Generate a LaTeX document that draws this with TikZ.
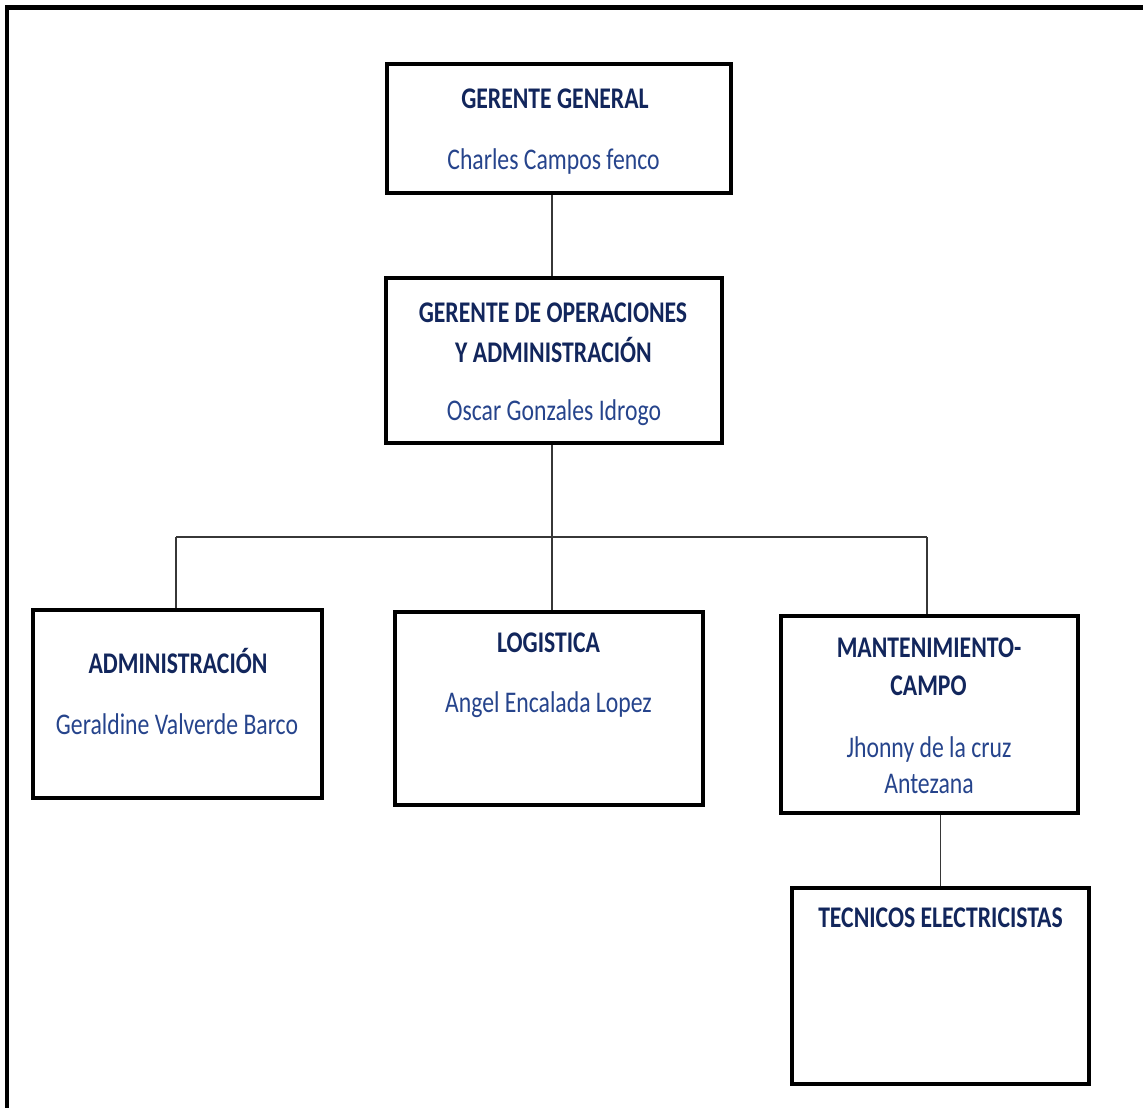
\documentclass[tikz,border=0pt]{standalone}
\usepackage{fontspec}
\setmainfont{Carlito}[FakeStretch=0.79]
\definecolor{headblue}{RGB}{18,38,92}
\definecolor{nameblue}{RGB}{38,68,140}
\definecolor{linegray}{RGB}{55,55,55}
\begin{document}
\begin{tikzpicture}[x=1pt,y=-1pt,
  box/.style={draw=black, line width=2.6pt, fill=white, rectangle, inner sep=0pt},
  head/.style={anchor=base, inner sep=0pt, text=headblue, font=\fontsize{30}{36}\selectfont\bfseries},
  person/.style={anchor=base, inner sep=0pt, text=nameblue, font=\fontsize{30}{36}\selectfont},
  conn/.style={draw=linegray, line width=1.3pt}]
\useasboundingbox (0,0) rectangle (1143,1108);
\clip (0,0) rectangle (1143,1108);
\fill[white] (0,0) rectangle (1143,1108);
\draw[line width=4.5pt] (7,7.5) rectangle (1170,1140);

% connector coordinates
\coordinate (busC) at (552,537);
\coordinate (busL) at (176,537);
\coordinate (busR) at (927,537);

% boxes
\node[box, minimum width=342pt, minimum height=127pt] (gg) at (559,128.5) {};
\node[box, minimum width=334pt, minimum height=163pt] (ops) at (554,360.5) {};
\node[box, minimum width=287pt, minimum height=186pt] (adm) at (177.5,704) {};
\node[box, minimum width=306pt, minimum height=191pt] (log) at (549,708.5) {};
\node[box, minimum width=295pt, minimum height=195pt] (man) at (929.5,714.5) {};
\node[box, minimum width=295pt, minimum height=194pt] (tec) at (940.5,986) {};

% connectors
\begin{scope}[on background layer/.try]
\end{scope}
\draw[conn] (gg.south -| busC) -- (ops.north -| busC);
\draw[conn] (ops.south -| busC) -- (log.north -| busC);
\draw[conn] (busL) -- (busR);
\draw[conn] (busL) -- (adm.north -| busL);
\draw[conn] (busR) -- (man.north -| busR);
\draw[conn] (man.south -| tec.north) -- (tec.north);

% redraw box borders on top of connector ends
\foreach \n in {gg,ops,adm,log,man,tec}{
  \draw[line width=2.6pt] (\n.north west) rectangle (\n.south east);
}

% texts
\node[head] (ggT) at (555,108) {GERENTE GENERAL};
\node[person] (ggP) at (553.5,169) {Charles Campos fenco};

\node[head] (opsT1) at (553,322) {GERENTE DE OPERACIONES};
\node[head] (opsT2) at (553.5,362) {Y ADMINISTRACIÓN};
\node[person] (opsP) at (554,420) {Oscar Gonzales Idrogo};

\node[head] (admT) at (178,673) {ADMINISTRACIÓN};
\node[person] (admP) at (177,734) {Geraldine Valverde Barco};

\node[head] (logT) at (548.5,652) {LOGISTICA};
\node[person] (logP) at (548.5,712) {Angel Encalada Lopez};

\node[head] (manT1) at (929,657) {MANTENIMIENTO-};
\node[head] (manT2) at (928.5,695) {CAMPO};
\node[person] (manP1) at (929,757) {Jhonny de la cruz};
\node[person] (manP2) at (929,793) {Antezana};

\node[head] (tecT) at (940.5,927) {TECNICOS ELECTRICISTAS};
\end{tikzpicture}
\end{document}
